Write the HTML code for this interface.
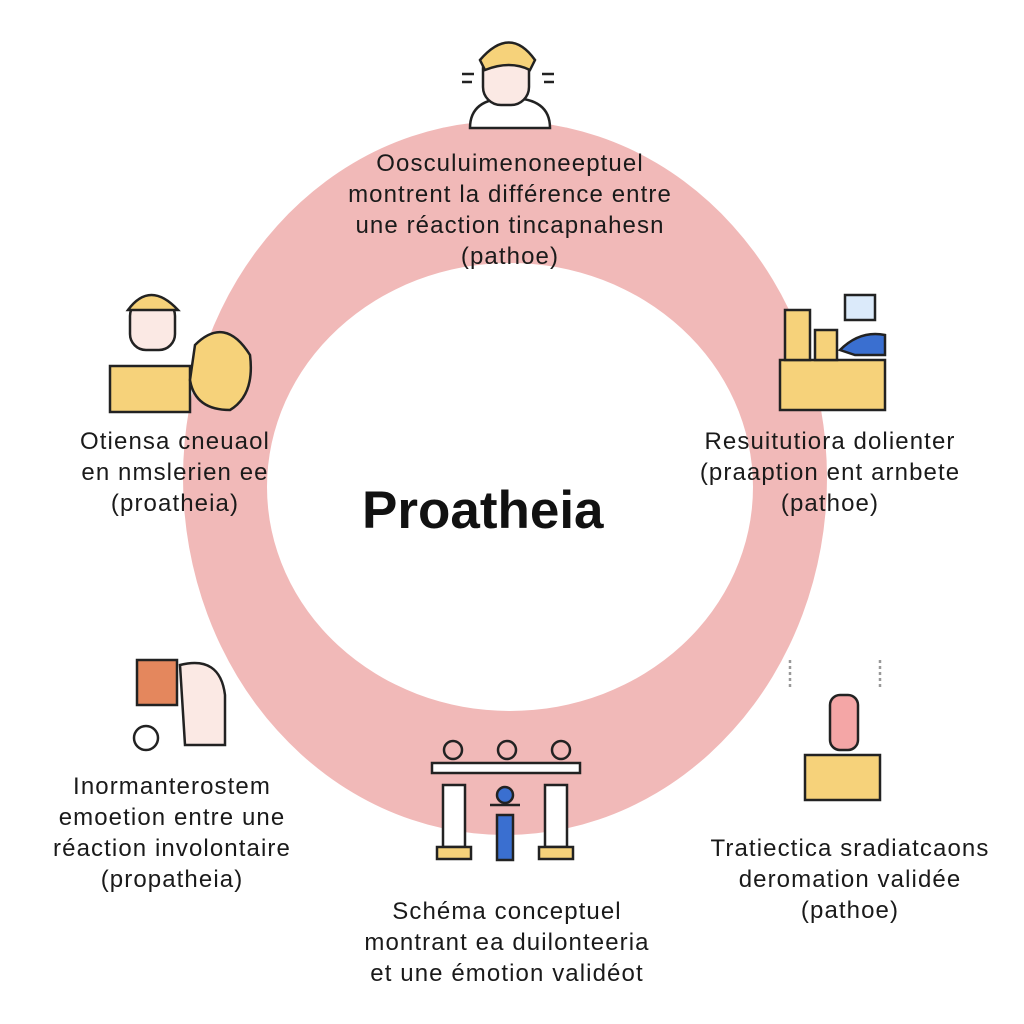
<!DOCTYPE html>
<html><head><meta charset="utf-8"><style>
body{margin:0;width:1024px;height:1024px;background:#fff;overflow:hidden;position:relative;font-family:"Liberation Sans",sans-serif;color:#1a1a1a}
.t{position:absolute;text-align:center;font-size:24px;letter-spacing:1.1px;line-height:31px;white-space:nowrap;transform:translateX(-50%)}
</style></head><body>
<svg width="1024" height="1024" style="position:absolute;left:0;top:0">
<path fill-rule="evenodd" fill="#f1b9b8" d="M183,478 a322,357 0 1,0 644,0 a322,357 0 1,0 -644,0 Z M267,487 a243,224 0 1,0 486,0 a243,224 0 1,0 -486,0 Z"/>
<g stroke="#222" stroke-width="2.5" fill="none">
<path d="M470,128 q0,-30 40,-30 q40,0 40,30 z" fill="#fff"/>
<rect x="483" y="50" width="46" height="55" rx="18" fill="#fbe9e4"/>
<path d="M480,60 q30,-35 55,0 l-5,10 q-20,-10 -45,0z" fill="#f6d27a"/>
<path d="M462,74h12M462,82h10M542,74h12M544,82h10"/>
<rect x="110" y="366" width="80" height="46" fill="#f6d27a"/>
<rect x="130" y="300" width="45" height="50" rx="16" fill="#fbe9e4"/>
<path d="M128,310 q22,-30 50,0z" fill="#f6d27a"/>
<path d="M195,345 q30,-30 55,10 q5,40 -20,55 q-35,0 -40,-30z" fill="#f6d27a"/>
<rect x="780" y="360" width="105" height="50" fill="#f6d27a"/>
<rect x="785" y="310" width="25" height="50" fill="#f6d27a"/><rect x="815" y="330" width="22" height="30" fill="#f6d27a"/>
<path d="M840,350 q20,-20 45,-15 v20 h-30 z" fill="#3a6fd0"/>
<rect x="845" y="295" width="30" height="25" fill="#dbeafa"/>
<rect x="137" y="660" width="40" height="45" fill="#e4875d"/>
<path d="M180,665 q40,-10 45,30 v50 h-40 z" fill="#fbe9e4"/>
<circle cx="146" cy="738" r="12" fill="#fff"/>
<rect x="432" y="763" width="148" height="10" fill="#fff"/>
<rect x="443" y="785" width="22" height="62" fill="#fff"/><rect x="545" y="785" width="22" height="62" fill="#fff"/>
<rect x="437" y="847" width="34" height="12" fill="#f6d27a"/><rect x="539" y="847" width="34" height="12" fill="#f6d27a"/>
<circle cx="453" cy="750" r="9"/><circle cx="507" cy="750" r="9"/><circle cx="561" cy="750" r="9"/>
<circle cx="505" cy="795" r="8" fill="#3a6fd0"/><path d="M497,815 h16 v45 h-16z" fill="#3a6fd0"/><path d="M490,805h30"/>
<rect x="805" y="755" width="75" height="45" fill="#f6d27a"/>
<rect x="830" y="695" width="28" height="55" rx="10" fill="#f4a6a6"/>
<path d="M790,660v30M880,660v30" stroke="#999" stroke-dasharray="3 3"/>
</g>
</svg>
<div class="t" style="left:510px;top:148px">Oosculuimenoneeptuel<br>montrent la différence entre<br>une réaction tincapnahesn<br>(pathoe)</div>
<div class="t" style="left:175px;top:426px">Otiensa cneuaol<br>en nmslerien ee<br>(proatheia)</div>
<div class="t" style="left:830px;top:426px">Resuitutiora dolienter<br>(praaption ent arnbete<br>(pathoe)</div>
<div class="t" style="left:172px;top:771px">Inormanterostem<br>emoetion entre une<br>réaction involontaire<br>(propatheia)</div>
<div class="t" style="left:507px;top:896px">Schéma conceptuel<br>montrant ea duilonteeria<br>et une émotion validéot</div>
<div class="t" style="left:850px;top:833px">Tratiectica sradiatcaons<br>deromation validée<br>(pathoe)</div>
<div style="position:absolute;left:362px;top:480px;font-size:53px;font-weight:bold;color:#111">Proatheia</div>
</body></html>
